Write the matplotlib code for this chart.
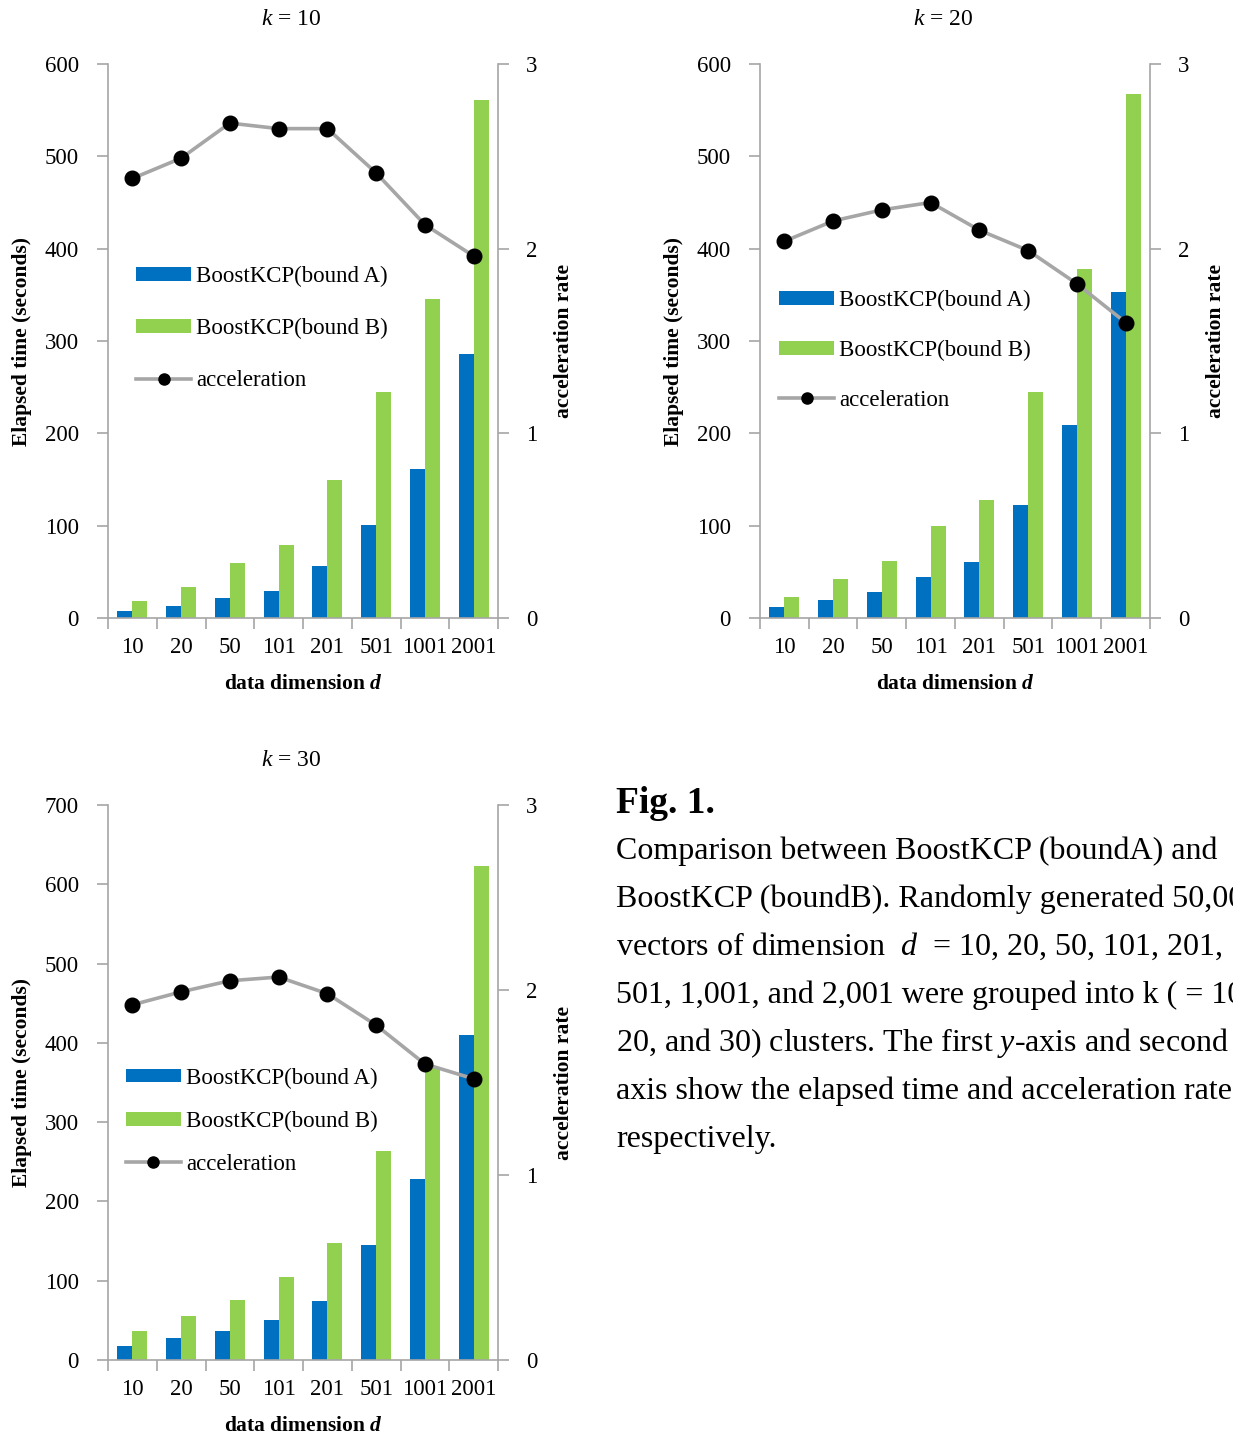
import numpy as np
import matplotlib
matplotlib.use('Agg')
import matplotlib.pyplot as plt
from matplotlib.lines import Line2D
from matplotlib.patches import Patch

plt.rcParams['font.family'] = ['Liberation Serif', 'DejaVu Serif']
plt.rcParams['mathtext.fontset'] = 'custom'
plt.rcParams['mathtext.rm'] = 'Liberation Serif'
plt.rcParams['mathtext.it'] = 'Liberation Serif:italic'
plt.rcParams['mathtext.bf'] = 'Liberation Serif:bold'
plt.rcParams['mathtext.bfit'] = 'Liberation Serif:italic:bold'

# ---------------- data ----------------
dims = ['10', '20', '50', '101', '201', '501', '1001', '2001']

time_a_k10 = [8, 13, 22, 29, 56, 101, 161, 286]
time_b_k10 = [18, 34, 60, 79, 150, 245, 346, 561]
accel_k10 = [2.38, 2.49, 2.68, 2.65, 2.65, 2.41, 2.13, 1.96]

time_a_k20 = [12, 19, 28, 44, 61, 122, 209, 353]
time_b_k20 = [23, 42, 62, 100, 128, 245, 378, 567]
accel_k20 = [2.04, 2.15, 2.21, 2.25, 2.10, 1.99, 1.81, 1.60]

time_a_k30 = [18, 28, 37, 50, 74, 145, 228, 410]
time_b_k30 = [37, 55, 76, 105, 148, 264, 368, 623]
accel_k30 = [1.92, 1.99, 2.05, 2.07, 1.98, 1.81, 1.60, 1.52]

blue = '#0070C0'
green = '#92D050'
gray_line = '#A6A6A6'
spine_col = '#A6A6A6'

W, H = 1233, 1441
fig = plt.figure(figsize=(W / 100, H / 100), dpi=100)


def px_axes(left, top, right, bottom):
    return fig.add_axes([left / W, 1 - bottom / H, (right - left) / W, (bottom - top) / H])


def panel(ax, k, ta, tb, acc, ymax, ystep, leg_xy, leg_space):
    x = np.arange(len(dims))
    bw = 0.31
    ax.bar(x - bw / 2, ta, width=bw, color=blue, zorder=2)
    ax.bar(x + bw / 2, tb, width=bw, color=green, zorder=2)
    ax.set_xlim(-0.5, len(dims) - 0.5)
    ax.set_ylim(0, ymax)
    ax.set_yticks(np.arange(0, ymax + 1, ystep))
    ax.set_xticks(x)
    ax.set_xticklabels(dims)
    ax.set_xticks(np.arange(-0.5, len(dims), 1), minor=True)
    ax.tick_params(axis='x', which='major', length=0, pad=14, labelsize=16.5)
    ax.tick_params(axis='x', which='minor', length=8, width=1.2, color=spine_col)
    ax.tick_params(axis='y', length=8, width=1.2, color=spine_col, pad=13, labelsize=16.5)
    for s in ['top', 'right']:
        ax.spines[s].set_visible(False)
    for s in ['left', 'bottom']:
        ax.spines[s].set_color(spine_col)
        ax.spines[s].set_linewidth(1.2)
    ax.set_ylabel('Elapsed time (seconds)', fontsize=15.5, fontweight='bold', labelpad=9)
    ax.set_xlabel(r'data dimension $\mathbfit{d}$', fontsize=15.5, fontweight='bold', labelpad=11)
    ax.text(0.47, 1.08, r'$k$ = %d' % k, transform=ax.transAxes,
            ha='center', va='center', fontsize=17)

    ax2 = ax.twinx()
    ax2.plot(x, acc, color=gray_line, lw=2.6, marker='o', markersize=10.5,
             markerfacecolor='black', markeredgecolor='black', zorder=3)
    ax2.set_ylim(0, 3)
    ax2.set_yticks([0, 1, 2, 3])
    ax2.tick_params(axis='y', length=8, width=1.2, color=spine_col, pad=12, labelsize=16.5)
    for s in ['top', 'left', 'bottom']:
        ax2.spines[s].set_visible(False)
    ax2.spines['right'].set_color(spine_col)
    ax2.spines['right'].set_linewidth(1.2)
    ax2.set_ylabel('acceleration rate', fontsize=15.5, fontweight='bold', labelpad=12)

    handles = [Patch(facecolor=blue), Patch(facecolor=green),
               Line2D([], [], color=gray_line, lw=2.6, marker='o', markersize=8,
                      markerfacecolor='black', markeredgecolor='black')]
    labels = ['BoostKCP(bound A)', 'BoostKCP(bound B)', 'acceleration']
    ax2.legend(handles, labels, loc='upper left', bbox_to_anchor=leg_xy, frameon=False,
               fontsize=16.5, handlelength=2.4, handleheight=0.55, handletextpad=0.22,
               labelspacing=leg_space, borderpad=0, borderaxespad=0)


ax_a = px_axes(108, 64, 498, 618)
panel(ax_a, 10, time_a_k10, time_b_k10, accel_k10, 600, 100, (0.072, 0.635), 1.35)

ax_b = px_axes(760, 64, 1150, 618)
panel(ax_b, 20, time_a_k20, time_b_k20, accel_k20, 600, 100, (0.049, 0.592), 1.25)

ax_c = px_axes(108, 805, 498, 1360)
panel(ax_c, 30, time_a_k30, time_b_k30, accel_k30, 700, 100, (0.046, 0.527), 0.96)

# caption block
cap_x = 616 / W
fig.text(cap_x, 1 - 813 / H, 'Fig. 1.', fontsize=27, fontweight='bold', va='baseline')
caption = [
    'Comparison between BoostKCP (boundA) and',
    'BoostKCP (boundB). Randomly generated 50,000',
    r'vectors of dimension  $d$  = 10, 20, 50, 101, 201,',
    '501, 1,001, and 2,001 were grouped into k ( = 10,',
    r'20, and 30) clusters. The first $y$-axis and second $y$-',
    'axis show the elapsed time and acceleration rate,',
    'respectively.',
]
for i, line in enumerate(caption):
    fig.text(cap_x, 1 - (859 + 48 * i) / H, line, fontsize=23, va='baseline')

fig.savefig('out.png', dpi=100)
